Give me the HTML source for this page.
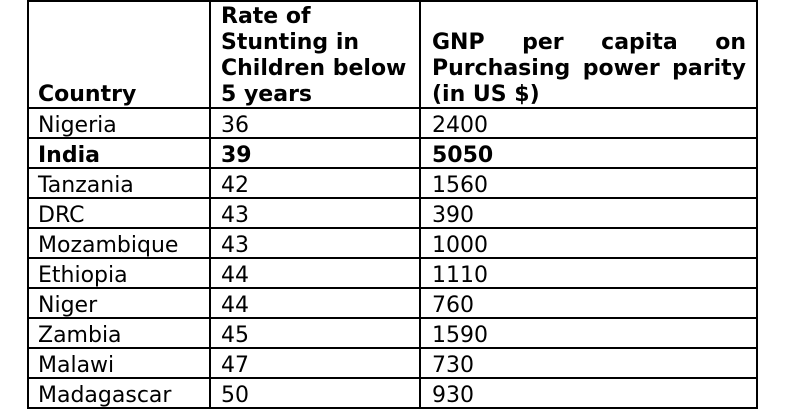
<!DOCTYPE html>
<html><head><style>
body{margin:0;width:788px;height:420px;background:#fff;position:relative;overflow:hidden;font-family:"DejaVu Sans","Liberation Sans",sans-serif;font-size:22px;color:#000}
.v{position:absolute;top:0;width:2px;height:409px;background:#000}
.h{position:absolute;left:27px;width:731px;height:2px;background:#000}
.t{position:absolute;white-space:nowrap;line-height:30px}
.hd{position:absolute;font-weight:bold;line-height:26px;white-space:nowrap}
</style></head><body>
<div class="v" style="left:27px"></div>
<div class="v" style="left:209px"></div>
<div class="v" style="left:419px"></div>
<div class="v" style="left:756px"></div>
<div class="h" style="top:0"></div>
<div class="h" style="top:107px"></div>
<div class="h" style="top:137px"></div>
<div class="h" style="top:167px"></div>
<div class="h" style="top:197px"></div>
<div class="h" style="top:227px"></div>
<div class="h" style="top:257px"></div>
<div class="h" style="top:287px"></div>
<div class="h" style="top:317px"></div>
<div class="h" style="top:347px"></div>
<div class="h" style="top:377px"></div>
<div class="h" style="top:407px"></div>
<div class="hd" style="left:38px;top:82px">Country</div>
<div class="hd" style="left:221px;top:4px">Rate of<br>Stunting in<br>Children below<br>5 years</div>
<div class="hd" style="left:432px;top:30px;width:314px;text-align:justify;text-align-last:justify;white-space:normal">GNP per capita on</div>
<div class="hd" style="left:432px;top:56px;width:314px;text-align:justify;text-align-last:justify;white-space:normal">Purchasing power parity</div>
<div class="hd" style="left:432px;top:82px">(in US $)</div>
<div class="t" style="left:38px;top:111px">Nigeria</div><div class="t" style="left:221px;top:111px">36</div><div class="t" style="left:432px;top:111px">2400</div>
<div class="t" style="left:38px;top:141px;font-weight:bold">India</div><div class="t" style="left:221px;top:141px;font-weight:bold">39</div><div class="t" style="left:432px;top:141px;font-weight:bold">5050</div>
<div class="t" style="left:38px;top:171px">Tanzania</div><div class="t" style="left:221px;top:171px">42</div><div class="t" style="left:432px;top:171px">1560</div>
<div class="t" style="left:38px;top:201px">DRC</div><div class="t" style="left:221px;top:201px">43</div><div class="t" style="left:432px;top:201px">390</div>
<div class="t" style="left:38px;top:231px">Mozambique</div><div class="t" style="left:221px;top:231px">43</div><div class="t" style="left:432px;top:231px">1000</div>
<div class="t" style="left:38px;top:261px">Ethiopia</div><div class="t" style="left:221px;top:261px">44</div><div class="t" style="left:432px;top:261px">1110</div>
<div class="t" style="left:38px;top:291px">Niger</div><div class="t" style="left:221px;top:291px">44</div><div class="t" style="left:432px;top:291px">760</div>
<div class="t" style="left:38px;top:321px">Zambia</div><div class="t" style="left:221px;top:321px">45</div><div class="t" style="left:432px;top:321px">1590</div>
<div class="t" style="left:38px;top:351px">Malawi</div><div class="t" style="left:221px;top:351px">47</div><div class="t" style="left:432px;top:351px">730</div>
<div class="t" style="left:38px;top:381px">Madagascar</div><div class="t" style="left:221px;top:381px">50</div><div class="t" style="left:432px;top:381px">930</div>
</body></html>
